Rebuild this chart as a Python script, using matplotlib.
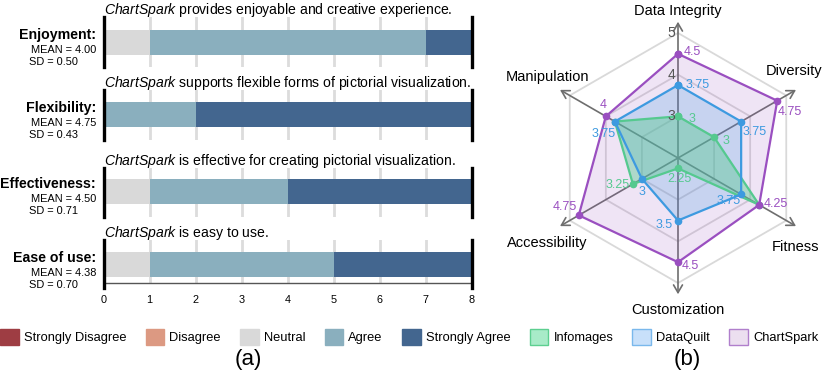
import numpy as np
import matplotlib
matplotlib.use('Agg')
import matplotlib.pyplot as plt
from matplotlib.patches import Patch

plt.rcParams['font.family'] = ['Liberation Sans', 'DejaVu Sans']
plt.rcParams['mathtext.fontset'] = 'custom'
plt.rcParams['mathtext.it'] = 'Liberation Sans:italic'
plt.rcParams['mathtext.rm'] = 'Liberation Sans'

# (a) likert answers, 8 participants
rows = ['Enjoyment:', 'Flexibility:', 'Effectiveness:', 'Ease of use:']
statements = [
    r'$\it{ChartSpark}$ provides enjoyable and creative experience.',
    r'$\it{ChartSpark}$ supports flexible forms of pictorial visualization.',
    r'$\it{ChartSpark}$ is effective for creating pictorial visualization.',
    r'$\it{ChartSpark}$ is easy to use.',
]
means = ['4.00', '4.75', '4.50', '4.38']
sds = ['0.50', '0.43', '0.71', '0.70']
likert_levels = ['Strongly Disagree', 'Disagree', 'Neutral', 'Agree', 'Strongly Agree']
likert_colors = ['#9e3d43', '#dc9982', '#d9d9d9', '#8aafbe', '#43668f']
strongly_disagree = [0, 0, 0, 0]
disagree = [0, 0, 0, 0]
neutral = [1, 0, 1, 1]
agree = [6, 2, 3, 4]
strongly_agree = [1, 6, 4, 3]
counts = [strongly_disagree, disagree, neutral, agree, strongly_agree]
x_ticks = list(range(0, 9))

# (b) radar scores
dimensions = ['Data Integrity', 'Diversity', 'Fitness', 'Customization',
              'Accessibility', 'Manipulation']
infomages = [3, 3, 4.25, 2.25, 3.25, 3.75]
dataquilt = [3.75, 3.75, 3.75, 3.5, 3, 3.75]
chartspark = [4.5, 4.75, 4.25, 4.5, 4.75, 4]
ring_levels = [3, 4, 5]

W, H = 830, 384
fig = plt.figure(figsize=(W / 100, H / 100), dpi=100)


def px_rect(left, top, width, height):
    return [left / W, 1 - (top + height) / H, width / W, height / H]


# ---------------- (a) ----------------
row_tops = [17, 90, 168, 240]
row_bottoms = [67, 140, 217, 283]
bar_centers = [42, 115, 191.5, 264.5]
ax_left, ax_width = 103.5, 368.2

for i, name in enumerate(rows):
    top, bot, c = row_tops[i], row_bottoms[i], bar_centers[i]
    ax = fig.add_axes(px_rect(ax_left, top, ax_width, bot - top))
    ax.set_xlim(0, 8)
    ax.set_ylim(-(bot - c) / 50, (c - top) / 50)
    for x in range(1, 8):
        ax.axvline(x, color='#dcdcdc', lw=2, zorder=0)
    left = 0
    for lvl, col in zip(counts, likert_colors):
        ax.barh(0, lvl[i], left=left, height=0.5, color=col, zorder=2)
        left += lvl[i]
    last = i == len(rows) - 1
    ext = -0.12 if last else 0
    for x in (0, 8):
        ax.axvline(x, ymin=ext, ymax=1, color='black', lw=2.4, zorder=3,
                   clip_on=False)
    for s in ax.spines.values():
        s.set_visible(False)
    ax.set_yticks([])
    if last:
        ax.spines['bottom'].set_visible(True)
        ax.spines['bottom'].set_color('#555555')
        ax.spines['bottom'].set_linewidth(1)
        ax.set_xticks(x_ticks)
        ax.tick_params(axis='x', length=0, pad=8.5, labelsize=7.8)
    else:
        ax.set_xticks([])
    ax.text(0, 1 + 7 / (bot - top), statements[i], transform=ax.transAxes,
            ha='left', va='center', fontsize=10.1)
    ax.annotate(name, xy=(0, 0), xytext=(-7.5, 7), textcoords='offset pixels',
                ha='right', va='center', fontsize=10.2, fontweight='bold')
    ax.annotate('MEAN = ' + means[i], xy=(0, 0), xytext=(-7.5, -8),
                textcoords='offset pixels', ha='right', va='center', fontsize=7.9)
    ax.annotate('SD = ' + sds[i], xy=(0, 0), xytext=(-74.5, -20),
                textcoords='offset pixels', ha='left', va='center', fontsize=7.9)

# ---------------- (b) ----------------
R = 137.5
rax = fig.add_axes(px_rect(678 - R, 158 - R, 2 * R, 2 * R), projection='polar')
rax.set_theta_offset(np.pi / 2)
rax.set_theta_direction(-1)
rax.set_ylim(2, 5.3)
rax.axis('off')

theta = np.arange(len(dimensions)) * 2 * np.pi / len(dimensions)
closed = np.append(theta, theta[0])

for v in ring_levels:
    rax.plot(closed, [v] * len(closed), color='#d9d9d9', lw=1.3, zorder=1)

tip = 5.27
name_offsets = [(0, 11), (-2, 18.5), (0, -20.5), (0, -16), (-13, -16.5), (-13, 12.5)]
for t, name, off in zip(theta, dimensions, name_offsets):
    rax.annotate('', xy=(t, tip), xytext=(t, 2),
                 arrowprops=dict(arrowstyle='->,head_length=0.55,head_width=0.32',
                                 color='#6e6e6e', lw=1.2, shrinkA=0, shrinkB=0),
                 zorder=2)
    rax.annotate(name, xy=(t, tip), xytext=off, textcoords='offset pixels',
                 ha='center', va='center', fontsize=10.5, annotation_clip=False)

series = [
    ('ChartSpark', chartspark, '#9a4fc0', 0.15),
    ('DataQuilt', dataquilt, '#3d9ae0', 0.22),
    ('Infomages', infomages, '#55c98f', 0.42),
]
for _, vals, col, a in series:
    rax.fill(closed, np.append(vals, vals[0]), color=col, alpha=a, lw=0, zorder=2)
for _, vals, col, a in series[::-1]:
    rax.plot(closed, np.append(vals, vals[0]), color=col, lw=1.6, marker='o',
             ms=4.5, zorder=4)

for v in ring_levels:
    rax.annotate(str(v), xy=(0, v), xytext=(-3, 0), textcoords='offset pixels',
                 ha='right', va='center', fontsize=10, color='#555555', zorder=5)

label_offsets = {
    'Infomages': [(11, -3, 'left'), (8, -4, 'left'), None, (1, -11, 'center'),
                  (-3, -1, 'right'), None],
    'DataQuilt': [(8, 0, 'left'), (1, -10, 'left'), (0, -7, 'right'),
                  (-5, -4, 'right'), (0.5, -13, 'center'), (-11, -12, 'center')],
    'ChartSpark': [(6, 2, 'left'), (0, -11, 'left'), (4, 1, 'left'),
                   (4, -4, 'left'), (-2, 8, 'right'), (-3, 11, 'center')],
}
for name, vals, col, _ in series:
    for t, v, off in zip(theta, vals, label_offsets[name]):
        if off is None:
            continue
        rax.annotate(f'{v:g}', xy=(t, v), xytext=off[:2], textcoords='offset pixels',
                     ha=off[2], va='center', fontsize=9, color=col, zorder=6)

# ---------------- legend & captions ----------------
handles = [Patch(facecolor=c, edgecolor=c) for c in likert_colors]
handles += [Patch(facecolor='#a8ebc8', edgecolor='#5dcf90', lw=1),
            Patch(facecolor='#c8e0fa', edgecolor='#7ab8ec', lw=1),
            Patch(facecolor='#ecdff0', edgecolor='#b07fcc', lw=1)]
labels = likert_levels + ['Infomages', 'DataQuilt', 'ChartSpark']
fig.legend(handles, labels, loc='center left', bbox_to_anchor=(0.0, 1 - 337 / H),
           ncol=8, frameon=False, fontsize=9.3, handlelength=1.45, handleheight=1.45,
           handletextpad=0.4, columnspacing=1.48, borderpad=0, borderaxespad=0)

fig.text(248 / W, 1 - 360 / H, '(a)', ha='center', va='center', fontsize=16)
fig.text(687 / W, 1 - 360 / H, '(b)', ha='center', va='center', fontsize=16)

fig.savefig('out.png', dpi=100)
